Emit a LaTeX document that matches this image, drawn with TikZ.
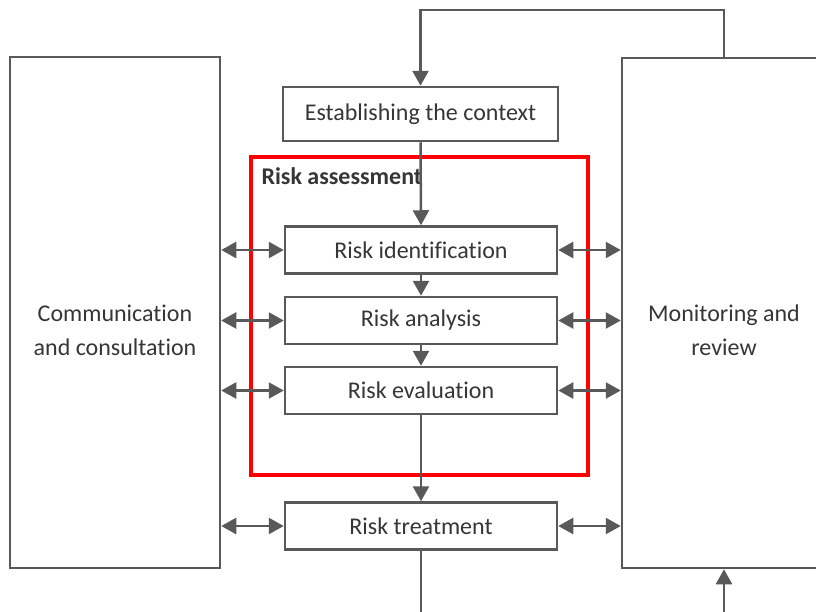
\documentclass[tikz,border=0pt]{standalone}
\usepackage{fontspec}
\setmainfont{Carlito}[Ligatures=NoCommon]
\usetikzlibrary{arrows.meta}
\definecolor{ln}{HTML}{595959}
\definecolor{tx}{HTML}{363636}
\definecolor{rd}{HTML}{FF0000}
\begin{document}
\begin{tikzpicture}[x=1pt,y=-1pt,
  every node/.style={font=\fontsize{24}{34}\selectfont, text=tx},
  box/.style={draw=ln, line width=2.5pt, fill=white, inner sep=0pt, align=center},
  stepbox/.style={box, minimum width=272pt, minimum height=47pt},
  arr/.style={draw=ln, line width=2.5pt, -{Triangle[length=15pt,width=16pt]}},
  darr/.style={draw=ln, line width=2.5pt, {Triangle[length=15pt,width=16pt]}-{Triangle[length=15pt,width=16pt]}},
  plain/.style={draw=ln, line width=2.5pt},
  lbl/.style={align=center, inner sep=0pt}]
\useasboundingbox (0,0) rectangle (816,611);
% red frame
\node[draw=rd, line width=3.5pt, minimum width=337pt, minimum height=318pt, inner sep=0pt] (ra) at (419.5,316) {};
\node[anchor=base west, font=\fontsize{24}{34}\selectfont\bfseries] (ralab) at (258,184) {Risk assessment};
% side boxes
\node[box, minimum width=210pt, minimum height=511pt] (cc) at (115,312.5) {};
\node[lbl] (cct) at (115,330) {Communication\\and consultation};
\node[box, minimum width=204pt, minimum height=510pt] (mon) at (724,313) {};
\node[lbl] (mont) at (724,330) {Monitoring and\\review};
% process boxes
\node[box, minimum width=275pt, minimum height=54pt] (ctx) at (420.5,114) {Establishing the context};
\node[stepbox] (id) at (421,250) {Risk identification};
\node[stepbox] (an) at (421,320.5) {Risk analysis};
\node[stepbox] (ev) at (421,390.5) {Risk evaluation};
\node[stepbox] (tr) at (421,526) {Risk treatment};
% coordinates
\coordinate (looptop) at (573,10);
\coordinate (bl) at (421,615);
\coordinate (br) at (724,615);
% connectors
\draw[arr] (mon.north) |- (looptop) -| (ctx.north);
\draw[arr] (ctx.south) -- (id.north);
\draw[arr] (id.south) -- (an.north);
\draw[arr] (an.south) -- (ev.north);
\draw[arr] (ev.south) -- (tr.north);
\draw[plain] (tr.south) -- (bl);
\draw[arr] (br) -- (mon.south);
\foreach \n in {id,an,ev,tr}{
  \draw[darr] (cc.east |- \n.west) -- (\n.west);
  \draw[darr] (\n.east) -- (mon.west |- \n.east);
}
\end{tikzpicture}
\end{document}
